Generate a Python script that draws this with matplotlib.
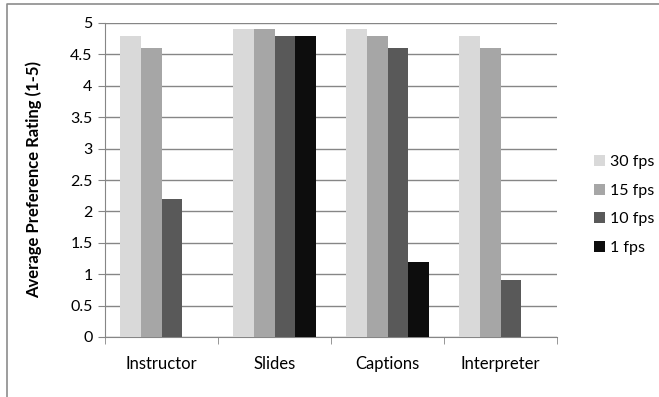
import numpy as np
import matplotlib.pyplot as plt
from matplotlib.lines import Line2D

# ratings per condition and frame rate
conditions = ['Instructor', 'Slides', 'Captions', 'Interpreter']
fps_30 = [4.8, 4.9, 4.9, 4.8]
fps_15 = [4.6, 4.9, 4.8, 4.6]
fps_10 = [2.2, 4.8, 4.6, 0.9]
fps_1 = [0, 4.8, 1.2, 0]
series = [('30 fps', fps_30, '#d9d9d9'),
          ('15 fps', fps_15, '#a6a6a6'),
          ('10 fps', fps_10, '#595959'),
          ('1 fps', fps_1, '#0d0d0d')]

plt.rcParams['font.family'] = ['Lato', 'DejaVu Sans']
fig = plt.figure(figsize=(6.59, 3.97), dpi=100)
ax = fig.add_axes([105/659, 1-337/397, 452/659, 314/397])

# chart frame (top and left edges)
fig.lines.append(Line2D([6.5/659, 6.5/659, 1], [0, 1-3.5/397, 1-3.5/397],
                        transform=fig.transFigure, color='#8c8c8c', linewidth=1.2))

w = 1/5.5
x = np.arange(len(conditions))
for i, (name, vals, col) in enumerate(series):
    ax.bar(x + (i - 1.5)*w, vals, w, color=col, label=name, zorder=3)

ax.set_xlim(-0.5, 3.5)
ax.set_ylim(0, 5)
ax.set_yticks(np.arange(0, 5.01, 0.5))
ax.set_yticklabels(['0', '0.5', '1', '1.5', '2', '2.5', '3', '3.5', '4', '4.5', '5'], fontsize=11.5)
ax.yaxis.grid(True, color='#868686', linewidth=1, zorder=0)
ax.set_xticks(x)
ax.set_xticklabels(conditions, fontsize=12)
ax.tick_params(axis='x', length=0, pad=14)
ax.tick_params(axis='y', length=5, color='#868686', pad=4)
ax.set_xticks(np.arange(-0.5, 3.6, 1), minor=True)
ax.tick_params(axis='x', which='minor', length=5, color='#868686')
for s in ['top', 'right']:
    ax.spines[s].set_visible(False)
for s in ['left', 'bottom']:
    ax.spines[s].set_color('#868686')
ax.set_ylabel('Average Preference Rating (1-5)', fontsize=12, fontweight='bold')
ax.yaxis.set_label_coords(-0.14, 0.5)

ax.legend(loc='center left', bbox_to_anchor=(1.05, 0.42), frameon=False, fontsize=11.5,
          handlelength=0.7, handleheight=0.7, labelspacing=0.9, handletextpad=0.3)
fig.savefig('out.png', dpi=100)
